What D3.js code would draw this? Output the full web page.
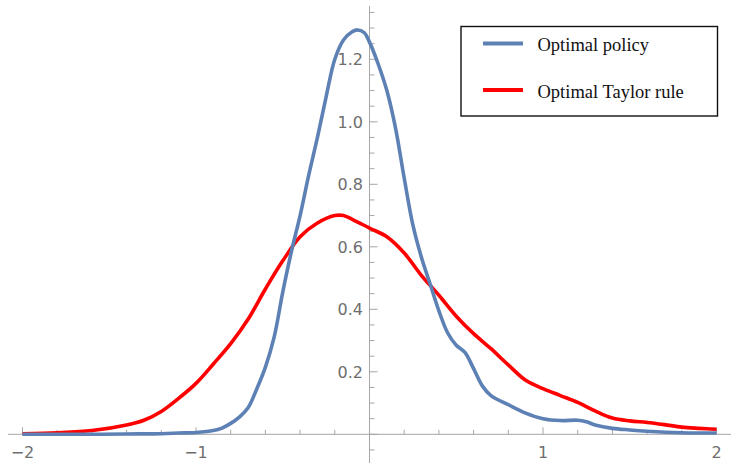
<!DOCTYPE html>
<html><head><meta charset="utf-8">
<script src="https://cdn.jsdelivr.net/npm/d3@7"></script>
<style>body{margin:0;background:#fff}svg{display:block}</style>
</head><body>
<script>
const xBlue = [-2.0,-1.8,-1.6,-1.4,-1.2,-1.1,-1.0,-0.9,-0.85,-0.8,-0.75,-0.7,-0.65,-0.6,-0.55,-0.5,-0.45,-0.4,-0.35,-0.3,-0.25,-0.2,-0.15,-0.1,-0.07,-0.03,0.0,0.05,0.1,0.15,0.2,0.25,0.3,0.35,0.4,0.45,0.5,0.55,0.6,0.65,0.7,0.8,0.9,1.0,1.1,1.2,1.25,1.3,1.4,1.5,1.6,1.8,2.0];
const yBlue = [0.0,0.0,0.0,0.001,0.002,0.004,0.006,0.012,0.02,0.035,0.055,0.085,0.145,0.215,0.31,0.455,0.585,0.70,0.83,0.95,1.08,1.20,1.262,1.288,1.294,1.285,1.255,1.185,1.10,0.98,0.82,0.67,0.565,0.48,0.395,0.325,0.285,0.262,0.21,0.155,0.124,0.095,0.068,0.05,0.044,0.045,0.04,0.03,0.019,0.014,0.01,0.005,0.004];
const xRed = [-2.0,-1.8,-1.6,-1.4,-1.3,-1.2,-1.1,-1.0,-0.9,-0.8,-0.7,-0.6,-0.5,-0.4,-0.3,-0.2,-0.15,-0.1,0.0,0.1,0.2,0.3,0.4,0.5,0.6,0.7,0.8,0.9,1.0,1.1,1.2,1.3,1.4,1.5,1.6,1.7,1.8,1.9,2.0];
const yRed = [0.002,0.005,0.012,0.030,0.045,0.073,0.115,0.163,0.225,0.29,0.368,0.465,0.555,0.632,0.676,0.70,0.70,0.688,0.66,0.632,0.58,0.508,0.445,0.378,0.322,0.274,0.222,0.173,0.146,0.124,0.102,0.075,0.052,0.043,0.038,0.031,0.023,0.019,0.016];
const seriesNames = ["Optimal policy","Optimal Taylor rule"];
const seriesColors = ["#5E81B5","#FF0000"];
const xTickLabels = [-2,-1,1,2];
const yTickLabels = [0.2,0.4,0.6,0.8,1.0,1.2];

const W = 731, H = 463;
const svg = d3.select("body").append("svg").attr("width", W).attr("height", H);
const x = d3.scaleLinear().domain([-2, 2]).range([22.5, 716.5]);
const y = d3.scaleLinear().domain([0, 1]).range([434.3, 121.8]);

const axisColor = "#a6a6a6";
const labelColor = "#6e6e6e";
const tickFont = "DejaVu Sans, Verdana, sans-serif";

// x axis
svg.append("line").attr("x1", 8).attr("x2", 731).attr("y1", y(0)).attr("y2", y(0))
  .attr("stroke", axisColor).attr("stroke-width", 1);
const xt = d3.range(-10, 11).map(i => i * 0.2);
svg.selectAll(".xt").data(xt).enter().append("line")
  .attr("x1", d => x(d)).attr("x2", d => x(d))
  .attr("y1", y(0)).attr("y2", d => y(0) - (Math.abs(d - Math.round(d)) < 1e-6 ? 7 : 4.5))
  .attr("stroke", axisColor).attr("stroke-width", 1);
svg.selectAll(".xl").data(xTickLabels).enter().append("text")
  .attr("x", d => x(d)).attr("y", 458)
  .attr("text-anchor", "middle")
  .attr("font-family", tickFont).attr("font-size", 16)
  .attr("fill", labelColor)
  .text(d => d < 0 ? "\u2212" + Math.abs(d) : String(d));

// y axis
svg.append("line").attr("x1", x(0)).attr("x2", x(0)).attr("y1", 6).attr("y2", 463)
  .attr("stroke", axisColor).attr("stroke-width", 1);
const yt = d3.range(-1, 28).map(i => i * 0.05);
svg.selectAll(".yt").data(yt).enter().append("line")
  .attr("y1", d => y(d)).attr("y2", d => y(d))
  .attr("x1", x(0)).attr("x2", d => x(0) + (Math.abs(d / 0.2 - Math.round(d / 0.2)) < 1e-6 ? 8 : 5))
  .attr("stroke", axisColor).attr("stroke-width", 1);
svg.selectAll(".yl").data(yTickLabels).enter().append("text")
  .attr("x", 363).attr("y", d => y(d)).attr("dy", "0.36em")
  .attr("text-anchor", "end")
  .attr("font-family", tickFont).attr("font-size", 16)
  .attr("fill", labelColor)
  .text(d => d.toFixed(1));

// curves
const line = d3.line().x(d => x(d[0])).y(d => Math.min(y(d[1]), y(0))).curve(d3.curveCatmullRom.alpha(0.5));
const redData = xRed.map((v, i) => [v, yRed[i]]);
const blueData = xBlue.map((v, i) => [v, yBlue[i]]);
svg.append("path").datum(redData).attr("d", line).attr("fill", "none")
  .attr("stroke", seriesColors[1]).attr("stroke-width", 3.6).attr("stroke-linejoin", "round");
svg.append("path").datum(blueData).attr("d", line).attr("fill", "none")
  .attr("stroke", seriesColors[0]).attr("stroke-width", 3.6).attr("stroke-linejoin", "round");

// legend
const lg = svg.append("g");
lg.append("rect").attr("x", 461).attr("y", 26.5).attr("width", 256.5).attr("height", 89.5)
  .attr("fill", "#fff").attr("stroke", "#111").attr("stroke-width", 1.4);
const ly = [43.5, 90];
seriesNames.forEach((n, i) => {
  lg.append("line").attr("x1", 483).attr("x2", 523).attr("y1", ly[i]).attr("y2", ly[i])
    .attr("stroke", seriesColors[i]).attr("stroke-width", 4);
  lg.append("text").attr("x", 537.5).attr("y", ly[i] + 7.5)
    .attr("font-family", "Liberation Serif, Times New Roman, serif").attr("font-size", 18.5)
    .attr("fill", "#111").text(n);
});
</script>
</body></html>
